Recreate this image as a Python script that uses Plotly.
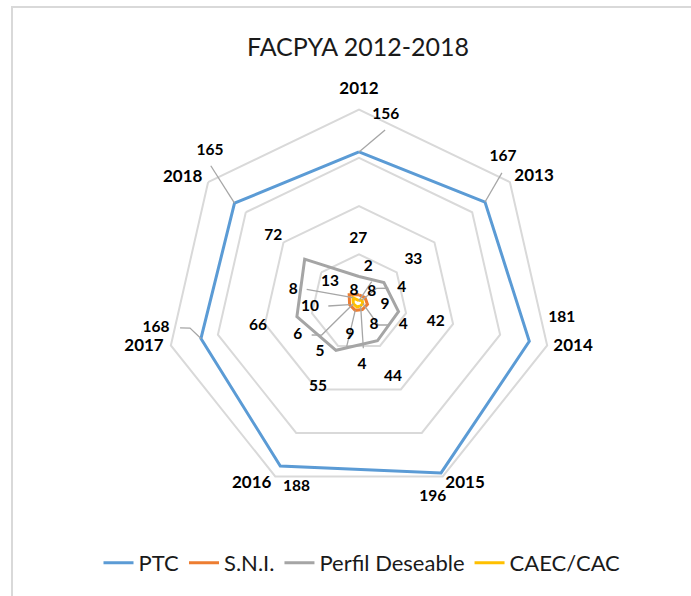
import plotly.graph_objects as go

# ---------------- data ----------------
categories = ["2012", "2013", "2014", "2015", "2016", "2017", "2018"]
ptc = [156, 167, 181, 196, 188, 168, 165]
sni = [8, 8, 9, 8, 9, 10, 13]
perfil = [27, 33, 42, 44, 55, 66, 72]
caec = [2, 4, 4, 4, 5, 6, 8]

# ---------------- label placement (polar r, theta in degrees) ----------------
cat_lab_r = [220.2, 223.1, 226.5, 217.8, 218.5, 227.5, 223.8]
cat_lab_t = [0.0, 54.4, 101.7, 149.7, 210.6, 258.3, 305.3]
ptc_lab_r = [196.3, 211.9, 210.7, 215.5, 201.8, 212.0, 220.2]
ptc_lab_t = [8.1, 44.8, 94.5, 159.2, 198.7, 262.8, 315.5]
perfil_lab_r = [65.5, 71.5, 82.0, 84.9, 97.0, 107.5, 112.4]
perfil_lab_t = [359.4, 52.0, 104.1, 155.5, 206.0, 256.9, 307.8]
caec_lab_r = [38.3, 46.6, 51.5, 64.8, 65.0, 71.9, 69.3]
caec_lab_t = [14.6, 71.6, 117.0, 177.3, 218.4, 242.1, 280.8]
sni_lab_r = [13.3, 17.3, 27.1, 28.0, 34.9, 51.0, 37.0]
sni_lab_t = [337.1, 49.6, 95.5, 146.3, 195.5, 265.1, 305.7]

# leader lines: (series, category index, path points after the data point)
leaders = [
    (ptc, 0, [(180.8, 8.6)]),
    (ptc, 1, [(199.9, 47.8)]),
    (ptc, 5, [(177.1, 261.4), (187.3, 261.9)]),
    (ptc, 6, [(209.0, 312.7)]),
    (caec, 0, [(25.3, 31.4)]),
    (caec, 1, [(23.5, 51.3), (33.8, 64.1)]),
    (caec, 2, [(30.7, 139.4), (38.3, 127.5)]),
    (caec, 3, [(47.7, 174.6)]),
    (caec, 5, [(51.3, 228.9), (59.5, 235.5)]),
    (caec, 6, [(55.9, 284.2)]),
    (sni, 4, [(47.5, 195.6)]),
    (sni, 5, [(32.0, 263.5)]),
]

W, H = 691, 596
cx, cy, R = 359, 302.5, 193
RMAX = 200
RMAX2 = 250
R2 = R * RMAX2 / RMAX
dom = dict(x=[(cx - R) / W, (cx + R) / W], y=[1 - (cy + R) / H, 1 - (cy - R) / H])
dom2 = dict(x=[(cx - R2) / W, (cx + R2) / W], y=[1 - (cy + R2) / H, 1 - (cy - R2) / H])
step = 360 / len(categories)

FONT = "Lato"
fig = go.Figure()

series = [
    ("PTC", ptc, "#5B9BD5"),
    ("S.N.I.", sni, "#ED7D31"),
    ("Perfil Deseable", perfil, "#A5A5A5"),
    ("CAEC/CAC", caec, "#FFC000"),
]
for name, vals, col in series:
    fig.add_trace(go.Scatterpolar(
        r=vals + vals[:1], theta=categories + categories[:1],
        mode="lines", name=name, line=dict(color=col, width=3),
        subplot="polar", hoverinfo="skip"))

# leader lines (on overlay polar with numeric angles)
lr, lt = [], []
for vals, i, path in leaders:
    lr.append(vals[i]); lt.append(i * step)
    for r, t in path:
        lr.append(r); lt.append(t)
    lr.append(None); lt.append(None)
fig.add_trace(go.Scatterpolar(
    r=lr, theta=lt, mode="lines", line=dict(color="#a6a6a6", width=1.3),
    subplot="polar2", showlegend=False, hoverinfo="skip", cliponaxis=False))

# category labels
fig.add_trace(go.Scatterpolar(
    r=cat_lab_r, theta=cat_lab_t, mode="text", text=categories,
    textposition="middle center",
    textfont=dict(family=FONT, size=17, color="black", weight="bold"),
    subplot="polar2", showlegend=False, hoverinfo="skip", cliponaxis=False))

for vals, rr, tt in [(ptc, ptc_lab_r, ptc_lab_t), (perfil, perfil_lab_r, perfil_lab_t),
                     (caec, caec_lab_r, caec_lab_t), (sni, sni_lab_r, sni_lab_t)]:
    fig.add_trace(go.Scatterpolar(
        r=rr, theta=tt, mode="text", text=[str(v) for v in vals],
        textposition="middle center",
        textfont=dict(family=FONT, size=15.5, color="black", weight="bold"),
        subplot="polar2", showlegend=False, hoverinfo="skip", cliponaxis=False))

fig.update_layout(
    width=W, height=H,
    margin=dict(l=0, r=0, t=0, b=0),
    paper_bgcolor="white",
    font=dict(family=FONT, color="black"),
    title=dict(text="FACPYA 2012-2018", x=358 / W, y=1 - 47 / H,
               xanchor="center", yanchor="middle",
               font=dict(family=FONT, size=25, color="#1a1a1a")),
    polar=dict(
        domain=dom, gridshape="linear", bgcolor="rgba(0,0,0,0)",
        radialaxis=dict(range=[0, RMAX], dtick=50, showticklabels=False, ticks="",
                        showline=False, gridcolor="#d9d9d9", gridwidth=2),
        angularaxis=dict(rotation=90, direction="clockwise", showgrid=False,
                         linecolor="#d9d9d9", linewidth=2, ticks="",
                         showticklabels=False),
    ),
    polar2=dict(
        domain=dom2, bgcolor="rgba(0,0,0,0)",
        radialaxis=dict(range=[0, RMAX2], visible=False),
        angularaxis=dict(rotation=90, direction="clockwise", visible=False,
                         thetaunit="degrees"),
    ),
    legend=dict(orientation="h", x=362 / W, y=1 - 563 / H, xanchor="center",
                yanchor="middle", font=dict(family=FONT, size=22, color="#1a1a1a"),
                bgcolor="rgba(0,0,0,0)"),
    shapes=[dict(type="rect", xref="paper", yref="paper",
                 x0=12 / W, x1=1.05, y0=-0.05, y1=1 - 7 / H,
                 line=dict(color="#d9d9d9", width=2), fillcolor="rgba(0,0,0,0)",
                 layer="below")],
)

fig.write_html("out.html", config={"displayModeBar": False},
               post_script="document.body.style.margin='0px';")
